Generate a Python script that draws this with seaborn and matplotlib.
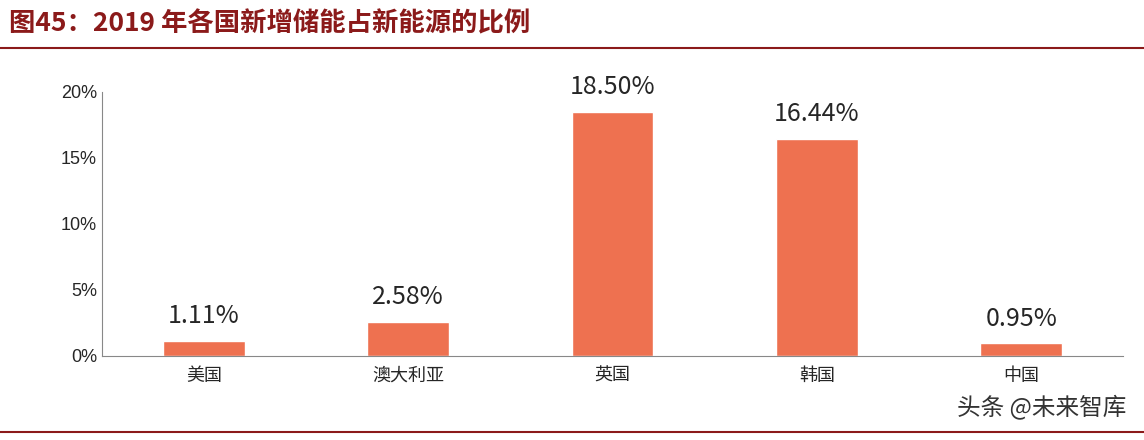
import matplotlib
matplotlib.use("Agg")
import matplotlib.pyplot as plt
import seaborn as sns
import pandas as pd

countries = ["美国", "澳大利亚", "英国", "韩国", "中国"]
values = [1.11, 2.58, 18.50, 16.44, 0.95]
yticks = [0, 5, 10, 15, 20]

sns.set_style("white")
plt.rcParams['font.family'] = ['Noto Sans CJK SC', 'DejaVu Sans']

fig = plt.figure(figsize=(11.44, 4.4), dpi=100)
ax = fig.add_axes([0.089, 0.191, 0.893, 0.6])
df = pd.DataFrame({"c": countries, "v": values})
sns.barplot(data=df, x="c", y="v", color="#EE7150", saturation=1, width=0.4, ax=ax)
ax.set_ylim(0, 20)
ax.set_yticks(yticks)
ax.set_yticklabels([f"{t}%" for t in yticks], fontsize=13, family=['Liberation Sans'])
ax.tick_params(axis='x', labelsize=13, length=0, pad=8)
ax.tick_params(axis='y', length=0)
ax.set_xlabel(""); ax.set_ylabel("")
for s in ["top", "right"]:
    ax.spines[s].set_visible(False)
for s in ["left", "bottom"]:
    ax.spines[s].set_color("#888888")
for i, v in enumerate(values):
    ax.text(i, v + 0.9, f"{v:.2f}%", ha="center", va="bottom", fontsize=18, clip_on=False)

fig.text(0.008, 0.945, "图45：2019 年各国新增储能占新能源的比例", fontsize=19, fontweight="bold",
         color="#8B1A1A", va="center")
fig.add_artist(plt.Line2D([0, 1], [0.89, 0.89], color="#8B1A1A", lw=1.5))
fig.add_artist(plt.Line2D([0, 1], [0.018, 0.018], color="#8B1A1A", lw=1.5))
fig.text(0.985, 0.075, "头条 @未来智库", fontsize=17, color="#333333", ha="right", va="center")
fig.savefig("out.png")
